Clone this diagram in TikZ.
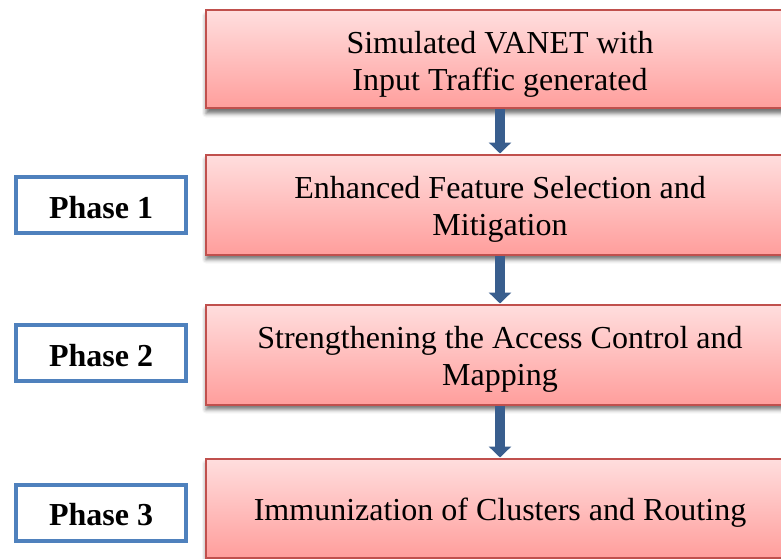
\documentclass[tikz,border=0pt]{standalone}
\usepackage{fontspec}
\setmainfont{Liberation Serif}
\usetikzlibrary{arrows.meta,shadows.blur}

\definecolor{stepedge}{RGB}{192,80,77}
\definecolor{steptop}{RGB}{255,222,222}
\definecolor{stepbottom}{RGB}{255,158,156}
\definecolor{phaseedge}{RGB}{79,129,189}
\definecolor{flowblue}{RGB}{57,94,142}

% invisible strut on the first line, sets the text a little lower in its box
\newcommand{\lowerstrut}{\rule{0pt}{31pt}}

\tikzset{
  stepbox/.style={draw=stepedge, line width=2pt, top color=steptop, bottom color=stepbottom,
    minimum width=588pt, inner sep=0pt, align=center,
    font=\fontsize{32pt}{37pt}\selectfont,
    blur shadow={shadow xshift=0pt, shadow yshift=-5pt, shadow blur radius=4pt, shadow opacity=55}},
  phasebox/.style={draw=phaseedge, line width=4pt, fill=white, minimum width=170pt, minimum height=56pt,
    inner sep=0pt, text height=26pt, text depth=0pt, font=\fontsize{32pt}{36pt}\selectfont\bfseries},
  flow/.style={draw=flowblue, line width=10pt, -{Triangle[width=22pt,length=11pt]}}
}

\begin{document}
\begin{tikzpicture}[x=1pt,y=-1pt]
  \useasboundingbox (0,0) rectangle (781,559);
  \clip (0,0) rectangle (781,559);

  % process steps (right-hand column runs past the page edge)
  \node[stepbox, minimum height=98pt]  (s1) at (500,59.5)  {\lowerstrut Simulated VANET with\\Input Traffic generated};
  \node[stepbox, minimum height=100pt] (s2) at (500,204.5) {\lowerstrut Enhanced Feature Selection and\\Mitigation};
  \node[stepbox, minimum height=100pt] (s3) at (500,354.5) {\lowerstrut Strengthening the Access Control and\\Mapping};
  \node[stepbox, minimum height=99pt]  (s4) at (500,508)   {\lowerstrut Immunization of Clusters and Routing};

  % phase labels
  \node[phasebox] (p1) at (101,205) {Phase 1};
  \node[phasebox] (p2) at (101,353) {Phase 2};
  \node[phasebox] (p3) at (101,512.5) {Phase 3};

  % flow arrows
  \draw[flow] (s1.south) -- (s2.north);
  \draw[flow] (s2.south) -- (s3.north);
  \draw[flow] (s3.south) -- (s4.north);
\end{tikzpicture}
\end{document}
